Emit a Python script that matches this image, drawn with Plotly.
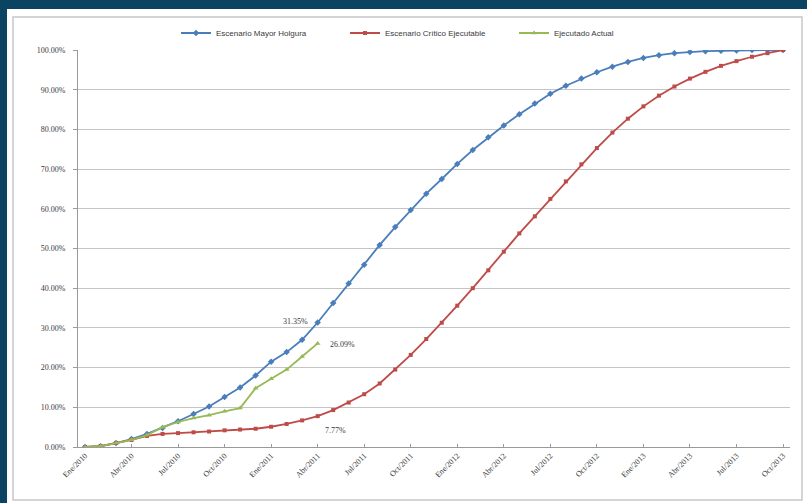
import plotly.graph_objects as go

months = ["Ene/2010","Feb/2010","Mar/2010","Abr/2010","May/2010","Jun/2010","Jul/2010","Ago/2010","Sep/2010","Oct/2010","Nov/2010","Dic/2010",
          "Ene/2011","Feb/2011","Mar/2011","Abr/2011","May/2011","Jun/2011","Jul/2011","Ago/2011","Sep/2011","Oct/2011","Nov/2011","Dic/2011",
          "Ene/2012","Feb/2012","Mar/2012","Abr/2012","May/2012","Jun/2012","Jul/2012","Ago/2012","Sep/2012","Oct/2012","Nov/2012","Dic/2012",
          "Ene/2013","Feb/2013","Mar/2013","Abr/2013","May/2013","Jun/2013","Jul/2013","Ago/2013","Sep/2013","Oct/2013"]

mayor_holgura = [0.0, 0.2, 1.0, 2.0, 3.3, 4.8, 6.5, 8.3, 10.2, 12.6, 15.0, 18.0,
                 21.5, 23.9, 27.0, 31.35, 36.3, 41.2, 45.9, 50.9, 55.4, 59.7, 63.8, 67.5,
                 71.3, 74.8, 78.0, 81.0, 83.8, 86.5, 89.0, 91.0, 92.8, 94.4, 95.8, 97.0,
                 98.0, 98.7, 99.2, 99.5, 99.7, 99.8, 99.9, 100.0, 100.0, 100.0]

critico_ejecutable = [0.0, 0.2, 1.0, 1.8, 2.8, 3.3, 3.5, 3.7, 3.9, 4.2, 4.4, 4.6,
                      5.1, 5.8, 6.7, 7.77, 9.3, 11.2, 13.3, 16.0, 19.5, 23.2, 27.2, 31.3,
                      35.6, 40.0, 44.5, 49.2, 53.8, 58.1, 62.5, 66.9, 71.2, 75.3, 79.2, 82.7,
                      85.8, 88.5, 90.8, 92.8, 94.5, 96.0, 97.2, 98.3, 99.2, 100.0]

ejecutado_actual = [0.0, 0.2, 1.0, 1.8, 3.0, 5.0, 6.3, 7.3, 8.0, 9.0, 9.8, 14.8,
                    17.2, 19.5, 22.8, 26.09]

tick_labels = ["Ene/2010","Abr/2010","Jul/2010","Oct/2010","Ene/2011","Abr/2011","Jul/2011","Oct/2011",
               "Ene/2012","Abr/2012","Jul/2012","Oct/2012","Ene/2013","Abr/2013","Jul/2013","Oct/2013"]
y_ticks = [0, 10, 20, 30, 40, 50, 60, 70, 80, 90, 100]

idx = list(range(len(months)))
tick_idx = [months.index(t) for t in tick_labels]

BLUE = "#4A7EBB"
RED = "#BE4B48"
GREEN = "#98B954"
NAVY = "#0A4462"
TXT = "#3a3a3a"

fig = go.Figure()
fig.add_trace(go.Scatter(x=idx, y=mayor_holgura, mode="lines+markers", name="Escenario Mayor Holgura",
                         line=dict(color=BLUE, width=1.8), marker=dict(symbol="diamond", size=5, color=BLUE)))
fig.add_trace(go.Scatter(x=idx, y=critico_ejecutable, mode="lines+markers", name="Escenario Crítico Ejecutable",
                         line=dict(color=RED, width=1.8), marker=dict(symbol="square", size=4, color=RED)))
fig.add_trace(go.Scatter(x=idx[:len(ejecutado_actual)], y=ejecutado_actual, mode="lines+markers", name="Ejecutado Actual",
                         line=dict(color=GREEN, width=1.8), marker=dict(symbol="triangle-up", size=5, color=GREEN)))

last = len(ejecutado_actual) - 1
ann_font = dict(family="Liberation Serif", size=8, color=TXT)
fig.add_annotation(x=last, y=mayor_holgura[last], text=f"{mayor_holgura[last]:.2f}%", showarrow=False,
                   xanchor="right", xshift=-8, yshift=1, font=ann_font)
fig.add_annotation(x=last, y=ejecutado_actual[last], text=f"{ejecutado_actual[last]:.2f}%", showarrow=False,
                   xanchor="left", xshift=10, yshift=-1, font=ann_font)
fig.add_annotation(x=last, y=critico_ejecutable[last], text=f"{critico_ejecutable[last]:.2f}%", showarrow=False,
                   xanchor="left", xshift=5, yshift=-14, font=ann_font)

W, H = 807, 503
L, R, T, B = 78, 17, 50, 56
pw, ph = W - L - R, H - T - B

def px2x(px):
    return (px - L) / pw

def py2y(py):
    return (H - B - py) / ph

shapes = [
    dict(type="rect", xref="paper", yref="paper", x0=px2x(7), x1=px2x(808), y0=py2y(504), y1=py2y(9),
         fillcolor="white", line=dict(width=0), layer="below"),
    dict(type="rect", xref="paper", yref="paper", x0=px2x(13), x1=px2x(802), y0=py2y(500), y1=py2y(17),
         fillcolor="rgba(0,0,0,0)", line=dict(color="#C8C8C8", width=1.5), layer="below"),
]

fig.update_layout(
    width=W, height=H,
    margin=dict(l=L, r=R, t=T, b=B, autoexpand=False),
    paper_bgcolor=NAVY, plot_bgcolor="white",
    shapes=shapes,
    showlegend=True,
    legend=dict(orientation="h", x=px2x(176), xanchor="left", y=py2y(33), yanchor="middle",
                font=dict(family="Liberation Sans", size=8, color=TXT), bgcolor="rgba(0,0,0,0)",
                itemwidth=30, entrywidth=124, entrywidthmode="pixels", tracegroupgap=0),
    font=dict(family="Liberation Sans", color=TXT),
)
fig.update_xaxes(range=[-0.45, len(months) - 1 + 0.45], tickmode="array", tickvals=tick_idx, ticktext=tick_labels,
                 tickangle=-45, tickfont=dict(size=8, family="Liberation Serif", color=TXT),
                 showgrid=False, showline=True, linecolor="#9A9A9A", linewidth=1, automargin=False,
                 ticks="inside", ticklen=3, tickcolor="#9A9A9A", zeroline=False)
fig.update_yaxes(range=[0, 100], tickmode="array", tickvals=y_ticks, ticktext=[f"{v:.2f}%" for v in y_ticks],
                 tickfont=dict(size=8, family="Liberation Serif", color=TXT),
                 showgrid=True, gridcolor="#C4C4C4", gridwidth=1, automargin=False,
                 showline=True, linecolor="#9A9A9A", linewidth=1,
                 ticks="outside", ticklen=4, tickcolor="#9A9A9A", zeroline=False,
                 ticklabelstandoff=6)

fig.write_html("out.html")
